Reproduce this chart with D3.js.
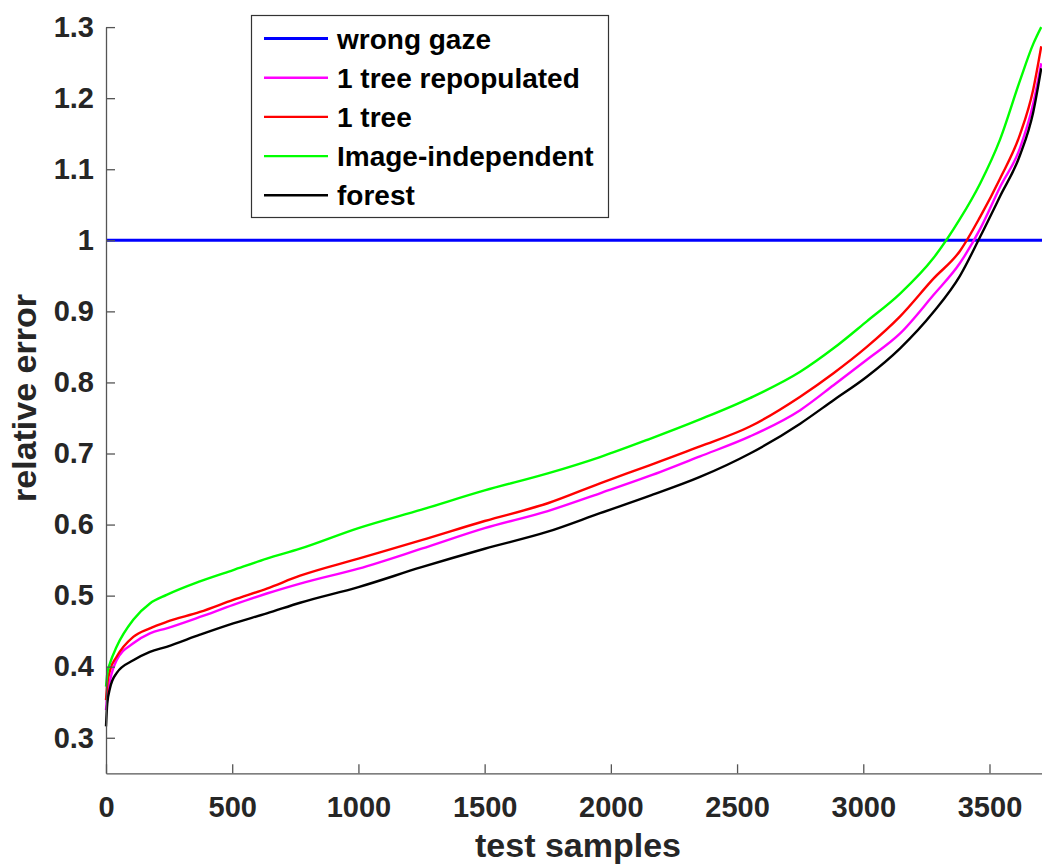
<!DOCTYPE html>
<html>
<head>
<meta charset="utf-8">
<script src="https://cdnjs.cloudflare.com/ajax/libs/d3/7.8.5/d3.min.js"></script>
<style>
  body { margin: 0; background: #fff; }
  svg text { font-family: "Liberation Sans", Arial, sans-serif; font-weight: bold; }
</style>
</head>
<body>
<script>
// sorted relative error per test sample
var samples = [0, 5, 16, 42, 108, 174, 240, 372, 504, 637, 769, 1000, 1250, 1500, 1750, 1957,
               2150, 2353, 2551, 2750, 2882, 3014, 3146, 3278, 3383, 3463, 3542, 3621, 3673, 3705];

var treeRepop = [0.339, 0.360, 0.381, 0.409, 0.433, 0.447, 0.454, 0.470, 0.487, 0.503, 0.517, 0.538, 0.566, 0.595, 0.619, 0.644,
                 0.668, 0.696, 0.724, 0.761, 0.796, 0.832, 0.869, 0.923, 0.968, 1.016, 1.075, 1.130, 1.192, 1.249];
var oneTree = [0.353, 0.375, 0.395, 0.414, 0.442, 0.454, 0.463, 0.477, 0.494, 0.510, 0.528, 0.552, 0.578, 0.605, 0.630, 0.658,
               0.683, 0.710, 0.738, 0.780, 0.813, 0.850, 0.893, 0.946, 0.985, 1.033, 1.087, 1.149, 1.212, 1.273];
var imageIndep = [0.372, 0.390, 0.405, 0.428, 0.466, 0.489, 0.501, 0.520, 0.536, 0.552, 0.566, 0.595, 0.621, 0.648, 0.672, 0.695,
                  0.720, 0.748, 0.778, 0.815, 0.848, 0.886, 0.925, 0.975, 1.030, 1.080, 1.142, 1.225, 1.276, 1.300];
var forest = [0.316, 0.348, 0.370, 0.391, 0.409, 0.421, 0.428, 0.445, 0.461, 0.475, 0.490, 0.512, 0.540, 0.566, 0.590, 0.616,
              0.640, 0.667, 0.700, 0.742, 0.775, 0.808, 0.848, 0.899, 0.950, 1.005, 1.062, 1.120, 1.180, 1.242];
var wrongGaze = 1;

var legendNames = ["wrong gaze", "1 tree repopulated", "1 tree", "Image-independent", "forest"];
var legendColors = ["#0000ff", "#ff00ff", "#ff0000", "#00ff00", "#000000"];
var xTicks = [0, 500, 1000, 1500, 2000, 2500, 3000, 3500];
var yTicks = [0.3, 0.4, 0.5, 0.6, 0.7, 0.8, 0.9, 1, 1.1, 1.2, 1.3];

function drawChart() {
  var width = 1042, height = 867;
  var svg = d3.select("body").append("svg")
    .attr("width", width)
    .attr("height", height);

  var x = d3.scaleLinear().domain([0, 3708]).range([106, 1042]);
  var y = d3.scaleLinear().domain([0.25, 1.3]).range([773.3, 27.1]);

  // wrong gaze baseline
  svg.append("line")
    .attr("x1", x(0)).attr("x2", x(3708))
    .attr("y1", y(wrongGaze)).attr("y2", y(wrongGaze))
    .attr("stroke", legendColors[0])
    .attr("stroke-width", 3);

  var line = d3.line()
    .x(function(d) { return x(d[0]); })
    .y(function(d) { return y(d[1]); })
    .curve(d3.curveMonotoneX);

  var series = [treeRepop, oneTree, imageIndep, forest];
  series.forEach(function(vals, i) {
    svg.append("path")
      .datum(samples.map(function(s, j) { return [s, vals[j]]; }))
      .attr("d", line)
      .attr("fill", "none")
      .attr("stroke", legendColors[i + 1])
      .attr("stroke-width", 2.4)
      .attr("stroke-linejoin", "round");
  });

  // axes, matlab style ticks pointing inward
  var yAxis = svg.append("g")
    .attr("transform", "translate(106,0)")
    .call(d3.axisLeft(y).tickValues(yTicks).tickSizeInner(-9).tickSizeOuter(0).tickPadding(12)
      .tickFormat(function(d) { return +d.toFixed(1); }));
  var xAxis = svg.append("g")
    .attr("transform", "translate(0,773.3)")
    .call(d3.axisBottom(x).tickValues(xTicks).tickSizeInner(-9).tickSizeOuter(0).tickPadding(23)
      .tickFormat(d3.format("d")));

  [xAxis, yAxis].forEach(function(a) {
    a.select(".domain").attr("stroke", "#555").attr("stroke-width", 1.3);
    a.selectAll(".tick line").attr("stroke", "#555").attr("stroke-width", 1.3);
    a.selectAll(".tick text").attr("fill", "#262626").style("font-size", "29px");
  });

  svg.append("text")
    .attr("x", 578).attr("y", 857)
    .attr("text-anchor", "middle")
    .attr("fill", "#262626")
    .style("font-size", "34px")
    .text("test samples");

  svg.append("text")
    .attr("transform", "translate(36,398) rotate(-90)")
    .attr("text-anchor", "middle")
    .attr("fill", "#262626")
    .style("font-size", "34px")
    .text("relative error");

  // legend
  var legend = svg.append("g");
  legend.append("rect")
    .attr("x", 251.5).attr("y", 15.5)
    .attr("width", 357).attr("height", 202)
    .attr("fill", "#fff")
    .attr("stroke", "#333")
    .attr("stroke-width", 1.2);

  var rows = legend.selectAll("g.row").data(legendNames).enter().append("g")
    .attr("class", "row")
    .attr("transform", function(d, i) { return "translate(0," + (38.5 + i * 39.2) + ")"; });
  rows.append("line")
    .attr("x1", 264).attr("x2", 328)
    .attr("stroke", function(d, i) { return legendColors[i]; })
    .attr("stroke-width", function(d, i) { return i == 0 ? 3 : 2.4; });
  rows.append("text")
    .attr("x", 337).attr("dy", "0.36em")
    .attr("fill", "#000")
    .style("font-size", "28px")
    .text(function(d) { return d; });
}

drawChart();
</script>
</body>
</html>
